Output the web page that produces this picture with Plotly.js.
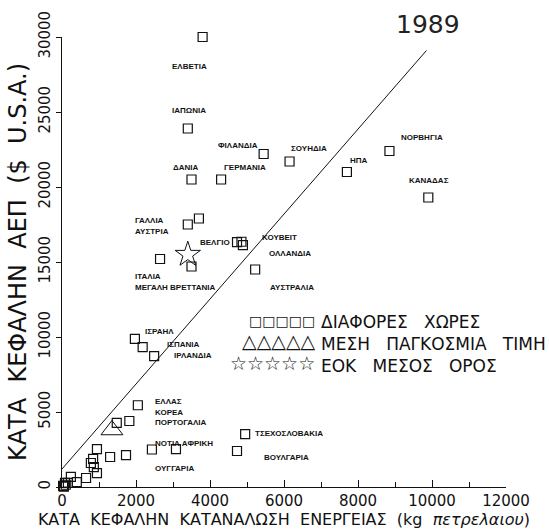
<!DOCTYPE html>
<html>
<head>
<meta charset="utf-8">
<script src="https://cdn.plot.ly/plotly-3.0.1.min.js"></script>
<style>html,body{margin:0;padding:0;background:#fff;}#chart{width:549px;height:532px;}</style>
</head>
<body>
<div id="chart"></div>
<script>
// Labelled countries: per-capita energy use (kg oil) and GDP ($ U.S.A.), 1989
const countries = ["ΕΛΒΕΤΙΑ","ΙΑΠΩΝΙΑ","ΦΙΛΑΝΔΙΑ","ΔΑΝΙΑ","ΓΕΡΜΑΝΙΑ","ΣΟΥΗΔΙΑ","ΗΠΑ","ΝΟΡΒΗΓΙΑ","ΚΑΝΑΔΑΣ",
  "ΓΑΛΛΙΑ","ΑΥΣΤΡΙΑ","ΒΕΛΓΙΟ","ΚΟΥΒΕΙΤ","ΟΛΛΑΝΔΙΑ","ΙΤΑΛΙΑ","ΜΕΓΑΛΗ ΒΡΕΤΤΑΝΙΑ","ΑΥΣΤΡΑΛΙΑ",
  "ΙΣΡΑΗΛ","ΙΣΠΑΝΙΑ","ΙΡΛΑΝΔΙΑ","ΕΛΛΑΣ","ΚΟΡΕΑ","ΠΟΡΤΟΓΑΛΙΑ","ΝΟΤΙΑ ΑΦΡΙΚΗ","ΟΥΓΓΑΡΙΑ","ΤΣΕΧΟΣΛΟΒΑΚΙΑ","ΒΟΥΛΓΑΡΙΑ"];
const energy = [3800,3400,5450,3500,4300,6150,7700,8850,9900,
  3700,3400,4730,4850,4890,2650,3500,5220,
  1970,2180,2490,2050,1820,1480,2430,3080,4950,4730];
const gdp = [30000,23900,22200,20500,20500,21700,21000,22400,19300,
  17900,17500,16330,16350,16130,15200,14700,14500,
  9870,9330,8730,5450,4400,4270,2500,2530,3530,2400];

// Unlabelled countries
const otherEnergy = [945,1300,1730,840,780,860,945,650,240,400,160,80,30,100,50];
const otherGdp    = [2530,2000,2130,1870,1600,1330,930,600,670,330,270,270,70,150,30];

// World average and EEC average
const worldEnergy = [1350], worldGdp = [3800];
const eecEnergy = [3400], eecGdp = [15500];

// Trend line end points
const fitEnergy = [0, 9850], fitGdp = [1200, 29100];

const xTicks = [0,2000,4000,6000,8000,10000,12000];
const yTicks = [0,5000,10000,15000,20000,25000,30000];

const legendNames = ["ΔΙΑΦΟΡΕΣ ΧΩΡΕΣ","ΜΕΣΗ ΠΑΓΚΟΣΜΙΑ ΤΙΜΗ","ΕΟΚ ΜΕΣΟΣ ΟΡΟΣ"];
const legendSymbols = ["□□□□□","△△△△△","☆☆☆☆☆"];
const titleText = "1989";

// label placement (pixel offsets from the point), styling only
const labelPlace = [
  ["left",-33,-29],["left",-18,18],["right",-4,9],["left",-21,12],["left",1,12],["left",-1,13],["left",1,12],["left",10,14],["left",-21,17],
  ["left",-66,-2],["left",-55,-7],["right",-5,0],["left",19,4],["left",24,-8],["left",-27,-17],["left",-59,-21],["left",13,-18],
  ["left",8,7],["left",22,3],["left",18,1],["left",15,4],["left",24,9],["left",36,0],["left",1,6],["left",-23,-19],["left",8,1],["left",25,-6]
];
const legendSymSize = [14, 19, 19];

const black = "#111";
const sq = {symbol:"square-open", size:9, color:black, line:{width:1.2, color:black}};

const traces = [
  {x: fitEnergy, y: fitGdp, mode:"lines", line:{color:black, width:1}, showlegend:false, hoverinfo:"skip", cliponaxis:false},
  {x: energy.concat(otherEnergy), y: gdp.concat(otherGdp), mode:"markers", name: legendNames[0], marker: sq, cliponaxis:false},
  {x: worldEnergy, y: worldGdp, mode:"markers", name: legendNames[1],
   marker:{symbol:"triangle-up-open", size:19, color:black, line:{width:1, color:black}}, cliponaxis:false},
  {x: eecEnergy, y: eecGdp, mode:"markers", name: legendNames[2],
   marker:{symbol:"star-open", size:19, color:black, line:{width:1, color:black}}, cliponaxis:false}
];

const annotations = countries.map((c,i)=>({
  x: energy[i], y: gdp[i], xref:"x", yref:"y", text: c, showarrow:false,
  xanchor: labelPlace[i][0], yanchor:"middle", xshift: labelPlace[i][1], yshift: labelPlace[i][2],
  font:{family:"Liberation Sans, Arial, sans-serif", size:8, color:black, weight:"bold"}
}));
annotations.push({
  xref:"paper", yref:"paper", x:0.824, y:1.027, text:titleText, showarrow:false,
  xanchor:"center", yanchor:"middle", font:{family:"DejaVu Sans, sans-serif", size:25, color:"#222"}
});
// hand-drawn style legend: one text block, one symbol block
annotations.push({xref:"paper", yref:"paper", x:0.58, y:0.318, showarrow:false,
  text: legendNames.map(n=>n.split(" ").join("\u00a0\u00a0\u00a0")).join("<br>"),
  xanchor:"left", yanchor:"middle", align:"left", borderpad:0,
  font:{family:"DejaVu Sans, sans-serif", size:17, color:black}});
annotations.push({xref:"paper", yref:"paper", x:0.574, y:0.318, showarrow:false,
  text: legendSymbols.map((s,i)=>"<span style='font-size:"+legendSymSize[i]+"px'>"+s+"</span>").join("<br>"),
  xanchor:"right", yanchor:"middle", align:"right", borderpad:0,
  font:{family:"DejaVu Sans, sans-serif", size:17, color:black}});

const pad = n => "\u00a0".repeat(n);

const layout = {
  width:549, height:532,
  margin:{l:62, r:43, t:37, b:45},
  paper_bgcolor:"#fff", plot_bgcolor:"#fff",
  font:{family:"DejaVu Sans, Liberation Sans, sans-serif", color:black},
  xaxis:{
    range:[0,12000], tickvals:xTicks, ticktext:xTicks.map(String),
    ticks:"inside", ticklen:7, tickwidth:1, tickcolor:black,
    minor:{dtick:1000, tick0:0, ticks:"inside", ticklen:5, tickcolor:black, showgrid:false},
    showline:true, linecolor:black, linewidth:1, showgrid:false, zeroline:false,
    tickfont:{size:15, family:"DejaVu Sans, sans-serif"},
    title:{text: pad(10) + "ΚΑΤΑ\u00a0 ΚΕΦΑΛΗΝ\u00a0 ΚΑΤΑΝΑΛΩΣΗ\u00a0 ΕΝΕΡΓΕΙΑΣ\u00a0 (kg\u00a0 <i>πετρελαιου</i>)",
           font:{size:16, family:"DejaVu Sans, sans-serif"}, standoff:3}
  },
  yaxis:{
    range:[0,30000], tickvals:yTicks, ticktext:yTicks.map(String), tickangle:-90,
    ticks:"outside", ticklen:5, tickwidth:1, tickcolor:black,
    showline:true, linecolor:black, linewidth:1, showgrid:false, zeroline:false,
    tickfont:{size:15, family:"DejaVu Sans, sans-serif"},
    title:{text:"ΚΑΤΑ\u00a0 ΚΕΦΑΛΗΝ\u00a0 ΑΕΠ\u00a0 ($\u00a0 U.S.A.)" + pad(4), font:{size:24, family:"DejaVu Sans, sans-serif"}, standoff:2}
  },
  showlegend:false,
  annotations: annotations
};

Plotly.newPlot("chart", traces, layout, {displayModeBar:false, staticPlot:true});
</script>
</body>
</html>
